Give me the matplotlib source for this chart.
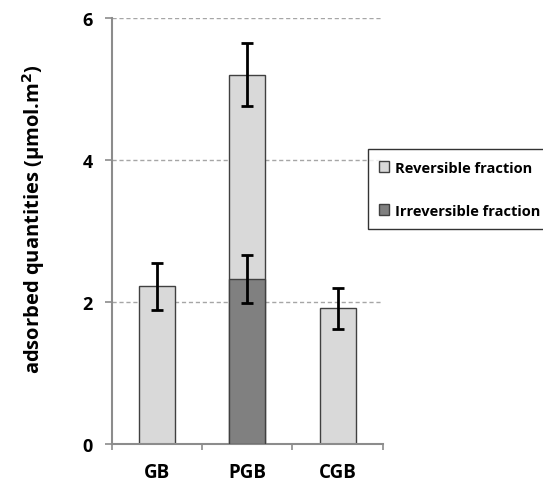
import numpy as np
import matplotlib
matplotlib.use("Agg")
import matplotlib.pyplot as plt

plt.rcParams['font.family'] = ['Open Sans', 'DejaVu Sans']

samples = ["GB", "PGB", "CGB"]
total = [2.22, 5.20, 1.91]
total_err = [0.33, 0.44, 0.29]
irreversible = [np.nan, 2.32, np.nan]
irreversible_err = [np.nan, 0.34, np.nan]

light = "#d9d9d9"
dark = "#808080"
axis_grey = "#8c8c8c"

fig = plt.figure(figsize=(5.43, 4.85), dpi=100)
ax = fig.add_axes([0.206, 0.0825, 0.499, 0.8785])

x = np.arange(len(samples))
w = 0.4

ax.bar(x, total, width=w, color=light, edgecolor="#404040", linewidth=1.0,
       zorder=2, label="Reversible fraction")
ax.bar(x, irreversible, width=w, color=dark, edgecolor="#404040", linewidth=1.0,
       zorder=3, label="Irreversible fraction")
ax.errorbar(x, total, yerr=total_err, fmt="none", ecolor="black",
            elinewidth=2, capsize=4, capthick=2, zorder=4)
ax.errorbar(x, irreversible, yerr=irreversible_err, fmt="none", ecolor="black",
            elinewidth=2, capsize=4, capthick=2, zorder=4)

ax.set_xlim(-0.5, 2.5)
ax.set_ylim(0, 6)
ax.set_yticks([0, 2, 4, 6])
ax.set_xticks(x)
ax.set_xticklabels(samples)
ax.set_xticks([-0.5, 0.5, 1.5, 2.5], minor=True)
ax.tick_params(axis="x", which="major", length=0, pad=13)
ax.tick_params(axis="x", which="minor", length=4.5, width=1.2, color=axis_grey,
               direction="out")
ax.tick_params(axis="y", length=5, width=1.2, color=axis_grey, direction="out",
               pad=9)
for lab in ax.get_xticklabels():
    lab.set_fontweight("bold")
    lab.set_fontsize(13.5)
for lab in ax.get_yticklabels():
    lab.set_fontweight("bold")
    lab.set_fontsize(13)

ax.yaxis.grid(True, linestyle=(0, (3, 2)), color="#a6a6a6", linewidth=1.0, zorder=0)
ax.set_axisbelow(True)

for s in ["top", "right"]:
    ax.spines[s].set_visible(False)
for s in ["left", "bottom"]:
    ax.spines[s].set_color(axis_grey)
    ax.spines[s].set_linewidth(1.5)

ax.set_ylabel("adsorbed quantities (µmol.m$\\mathbf{^2}$)", fontsize=14.5,
              fontweight="bold")
ax.yaxis.set_label_coords(-0.24, 0.53)

leg = fig.legend(loc="upper left", bbox_to_anchor=(0.677, 0.691),
                 fontsize=10.5, frameon=True, fancybox=False, edgecolor="black",
                 handlelength=0.7, handleheight=0.7, handletextpad=0.35,
                 labelspacing=2.0, borderpad=0.8, borderaxespad=0)
leg.get_frame().set_linewidth(1.0)
for t in leg.get_texts():
    t.set_fontweight("bold")

fig.savefig("out.png", dpi=100)
